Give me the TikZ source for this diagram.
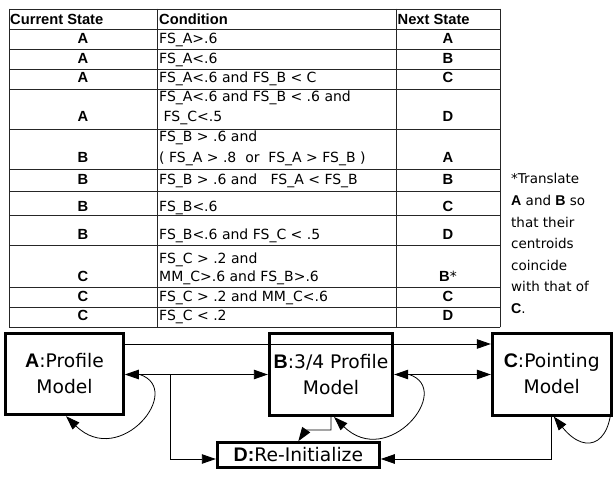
\documentclass[tikz,border=0pt]{standalone}
\usepackage{fontspec}
\setmainfont{DejaVu Sans}
\newfontfamily\hbfam{Liberation Sans}[Scale=1.05]
\newcommand\bft[1]{{\hbfam\bfseries #1}}
\usetikzlibrary{arrows.meta,calc}
\begin{document}
\begin{tikzpicture}[x=1pt,y=-1pt,
  >={Triangle[length=14pt,width=9.5pt]},
  grid/.style={line width=0.9pt,draw=black!85,line cap=rect},
  tx/.style={inner sep=0pt,font=\fontsize{14}{16}\selectfont},
  tl/.style={tx,anchor=base west},
  tm/.style={tx,anchor=base},
  box/.style={draw,line width=3pt,inner sep=0pt,outer sep=1.5pt,align=center,font=\fontsize{18.7}{26}\selectfont},
  con/.style={line width=0.9pt},
  loopc/.style={line width=0.8pt},
  nt/.style={inner sep=0pt,anchor=base west,font=\fontsize{13.5}{16}\selectfont}
]
\useasboundingbox (0,0) rectangle (613,481);

% table grid
\foreach \yy in {9,29,49,69,89,129,169,191,215,245,287,307,327}
  \draw[grid] (9,\yy) -- (500,\yy);
\foreach \xx in {9,157,396,500}
  \draw[grid] (\xx,9) -- (\xx,327);

% header
\node[tl] (hc) at (10,25) {\bft{Current State}};
\node[tl] (hk) at (159,25) {\bft{Condition}};
\node[tl] (hn) at (397.5,25) {\bft{Next State}};

% current state
\node[tm] (c1) at (83,43.7) {\bft{A}};
\node[tm] (c2) at (83,63.3) {\bft{A}};
\node[tm] (c3) at (83,82.7) {\bft{A}};
\node[tm] (c4) at (83,121.7) {\bft{A}};
\node[tm] (c5) at (83,162.7) {\bft{B}};
\node[tm] (c6) at (83,185) {\bft{B}};
\node[tm] (c7) at (83,212) {\bft{B}};
\node[tm] (c8) at (83,240) {\bft{B}};
\node[tm] (c9) at (83,281.7) {\bft{C}};
\node[tm] (c10) at (83,301.7) {\bft{C}};
\node[tm] (c11) at (83,320.7) {\bft{C}};

% conditions
\node[tl] (k1) at (159,43.7) {FS\_A>.6};
\node[tl] (k2) at (159,63.3) {FS\_A<.6};
\node[tl] (k3) at (159,82.7) {FS\_A<.6 and FS\_B < C};
\node[tl] (k4a) at (159,101.7) {FS\_A<.6 and FS\_B < .6 and};
\node[tl] (k4b) at (159,121.7) {\ FS\_C<.5};
\node[tl] (k5a) at (159,142) {FS\_B > .6 and};
\node[tl] (k5b) at (159,162.7) {( FS\_A > .8\ \ or\ \ FS\_A > FS\_B )};
\node[tl] (k6) at (159,185) {FS\_B > .6 and\ \ \ FS\_A < FS\_B};
\node[tl] (k7) at (159,212) {FS\_B<.6};
\node[tl] (k8) at (159,240) {FS\_B<.6 and FS\_C < .5};
\node[tl] (k9a) at (159,263.3) {FS\_C > .2 and};
\node[tl] (k9b) at (159,281.7) {MM\_C>.6 and FS\_B>.6};
\node[tl] (k10) at (159,301.7) {FS\_C > .2 and MM\_C<.6};
\node[tl] (k11) at (159,320.7) {FS\_C < .2};

% next state
\node[tm] (n1) at (448,43.7) {\bft{A}};
\node[tm] (n2) at (448,63.3) {\bft{B}};
\node[tm] (n3) at (448,82.7) {\bft{C}};
\node[tm] (n4) at (448,121.7) {\bft{D}};
\node[tm] (n5) at (448,162.7) {\bft{A}};
\node[tm] (n6) at (448,185) {\bft{B}};
\node[tm] (n7) at (448,212) {\bft{C}};
\node[tm] (n8) at (448,240) {\bft{D}};
\node[tm] (n9) at (448,281.7) {\bft{B}*};
\node[tm] (n10) at (448,301.7) {\bft{C}};
\node[tm] (n11) at (448,320.7) {\bft{D}};

% note
\node[nt] (note1) at (511,184) {*Translate};
\node[nt] (note2) at (511,205.5) {\bft{A} and \bft{B} so};
\node[nt] (note3) at (511,227) {that their};
\node[nt] (note4) at (511,248.5) {centroids};
\node[nt] (note5) at (511,270) {coincide};
\node[nt] (note6) at (511,291.5) {with that of};
\node[nt] (note7) at (511,313) {\bft{C}.};

% state boxes
\node[box,minimum width=117.6pt,minimum height=81.4pt] (A) at (64.5,374) {\bft{A}:Profile\\Model};
\node[box,minimum width=123.4pt,minimum height=81.5pt] (B) at (331,374.7) {\bft{B}:3/4 Profile\\Model};
\node[box,minimum width=118.7pt,minimum height=82pt] (C) at (551.7,374) {\bft{C}:Pointing\\Model};
\node[box,minimum width=162pt,minimum height=24.6pt] (D) at (298.3,455) {\bft{D:}Re-Initialize};

\coordinate (yt) at (0,344);
\coordinate (ym) at (0,374.5);
\coordinate (yl) at (0,459);
\coordinate (br) at (170.5,374.5);

% connectors
\draw[con,->] (A.east|-yt) -- (C.west|-yt);
\draw[con,<->] (A.east|-ym) -- (B.west|-ym);
\draw[con,<->] (B.east|-ym) -- (C.west|-ym);
\draw[con,->] (br) |- (D.west|-yl);
\draw[con,->] (C.south) |- (D.east|-yl);
\draw[con,->] (B.south) -- ++(0,13) -- ++(-25,0) -- (D.north);

% self loops
\draw[loopc,->] ($(A.east|-ym)+(15,0)$) .. controls +(45,15) and +(54,53) .. ($(A.south)+(1.5,0)$);
\draw[loopc,->] ($(B.east|-ym)+(15,0)$) .. controls +(45,15) and +(54,53) .. ($(B.south)+(3,0)$);
\draw[loopc,->] ($(C.east)+(-1.5,18)$) .. controls +(4,50) and +(34,42) .. ($(C.south)+(2,0)$);
\end{tikzpicture}
\end{document}
